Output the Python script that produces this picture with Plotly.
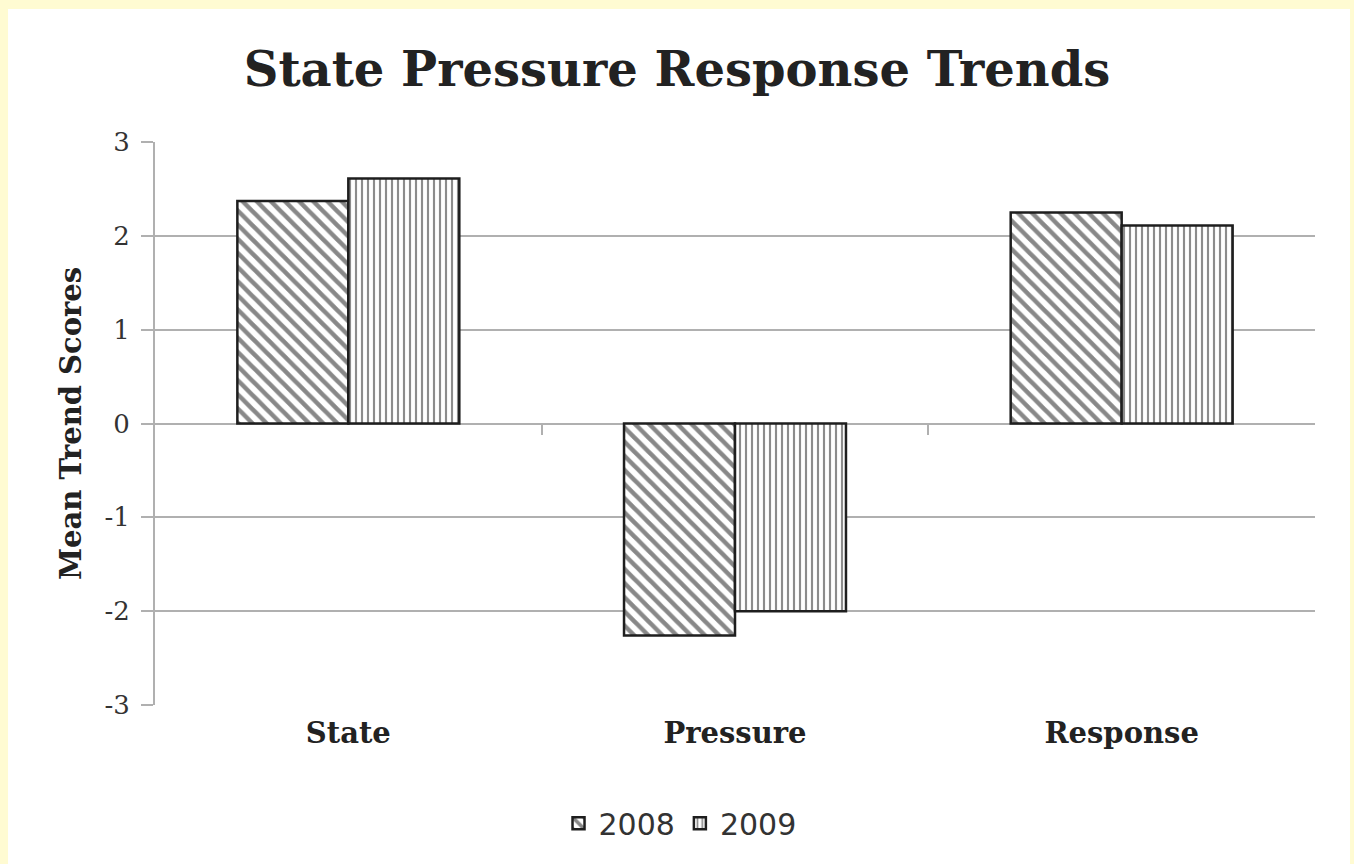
import plotly.graph_objects as go

# Chart data
categories = ["State", "Pressure", "Response"]
scores_2008 = [2.37, -2.26, 2.25]
scores_2009 = [2.61, -2.00, 2.11]
y_ticks = [-3, -2, -1, 0, 1, 2, 3]

SERIF = "DejaVu Serif"
GRID = "#b0b0b0"

fig = go.Figure()

fig.add_trace(go.Bar(
    name="2008", x=categories, y=scores_2008,
    marker=dict(
        color="white",
        line=dict(color="#1e1e1e", width=2.5),
        pattern=dict(shape="\\", fgcolor="#111111", bgcolor="white",
                     size=10, solidity=0.45),
    ),
))
fig.add_trace(go.Bar(
    name="2009", x=categories, y=scores_2009,
    marker=dict(
        color="white",
        line=dict(color="#1e1e1e", width=2.5),
        pattern=dict(shape="|", fgcolor="#1a1a1a", bgcolor="white",
                     size=6, solidity=0.36),
    ),
))

# Invisible helper trace so the secondary x axis (category dividers on the zero line) is drawn
fig.add_trace(go.Scatter(x=[0.5, 1.5], y=[0, 0], xaxis="x2", mode="lines",
                         line=dict(width=0), showlegend=False, hoverinfo="skip"))

# White card over the yellow page
fig.add_shape(type="rect", xref="paper", yref="paper",
              x0=-0.1267, x1=1.0302, y0=-0.2824, y1=1.2362,
              fillcolor="white", line=dict(width=0), layer="below")

fig.update_layout(
    width=1354, height=864,
    paper_bgcolor="#fffbd2",
    plot_bgcolor="white",
    margin=dict(l=155, r=39, t=142, b=159),
    barmode="group",
    bargap=0.426,
    bargroupgap=0,
    title=dict(text="<b>State Pressure Response Trends</b>",
               x=0.5, xanchor="center", y=0.92, yanchor="middle",
               font=dict(family=SERIF, size=48, color="#222222")),
    xaxis=dict(
        tickfont=dict(family=SERIF, size=29, color="#222222"),
        tickprefix="<b>", ticksuffix="</b>",
        showgrid=False, showline=False, ticks="", zeroline=False,
        ticklabelstandoff=8,
    ),
    xaxis2=dict(
        overlaying="x", anchor="free", position=0.5, range=[-0.5, 2.5],
        tickvals=[0.5, 1.5], ticks="outside", ticklen=10, tickwidth=2,
        tickcolor=GRID, showticklabels=False, showgrid=False,
        showline=False, zeroline=False,
    ),
    yaxis=dict(
        range=[-3, 3], tickvals=y_ticks, ticktext=[str(v) for v in y_ticks],
        tickfont=dict(family=SERIF, size=26, color="#333333"),
        showgrid=True, gridcolor=GRID, gridwidth=2,
        zeroline=True, zerolinecolor=GRID, zerolinewidth=2,
        showline=True, linecolor=GRID, linewidth=2,
        ticks="outside", ticklen=12, tickwidth=2, tickcolor=GRID,
        ticklabelstandoff=6,
        title=dict(text="<b>Mean Trend Scores</b>", standoff=14,
                   font=dict(family=SERIF, size=29, color="#222222")),
    ),
    legend=dict(orientation="h", x=0.4526, xanchor="center",
                y=-0.21, yanchor="middle", bgcolor="white",
                font=dict(family="DejaVu Sans", size=30, color="#333333"),
                itemwidth=30, traceorder="normal"),
    showlegend=True,
)

fig.write_html("out.html")
